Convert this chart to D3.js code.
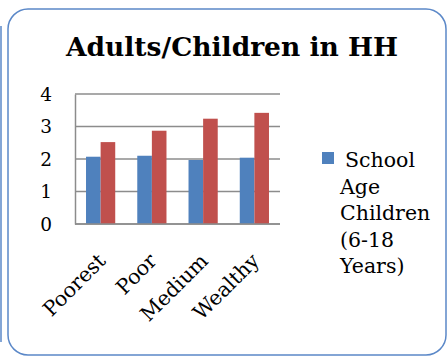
<!DOCTYPE html>
<html>
<head>
<meta charset="utf-8">
<script src="https://cdn.jsdelivr.net/npm/d3@7"></script>
<style>
  body { margin: 0; background: #fff; }
  svg { display: block; }
  text { font-family: "DejaVu Serif", "Liberation Serif", serif; fill: #000; }
</style>
</head>
<body>
<script>
var categories = ["Poorest", "Poor", "Medium", "Wealthy"];
var schoolAge = [2.07, 2.10, 1.97, 2.04];
var adults = [2.52, 2.87, 3.24, 3.42];
var yTicks = [0, 1, 2, 3, 4];
var legendLines = ["School", "Age", "Children", "(6-18", "Years)"];

var W = 448, H = 356;
var plot = {left: 75, right: 280, top: 94, bottom: 224};

var svg = d3.select("body").append("svg")
    .attr("width", W)
    .attr("height", H);

svg.append("rect")
    .attr("width", W).attr("height", H)
    .attr("fill", "#fff");

// neighbouring frame edge
svg.append("line")
    .attr("x1", 1).attr("x2", 1)
    .attr("y1", 26).attr("y2", 342)
    .attr("stroke", "#5b88c8").attr("stroke-width", 1.5);

// chart frame
svg.append("rect")
    .attr("x", 8).attr("y", 9)
    .attr("width", 438).attr("height", 346)
    .attr("rx", 20).attr("ry", 20)
    .attr("fill", "none")
    .attr("stroke", "#5b88c8")
    .attr("stroke-width", 1.5);

svg.append("text")
    .attr("x", 232).attr("y", 56)
    .attr("text-anchor", "middle")
    .style("font-size", "26.5px")
    .style("font-weight", "bold")
    .text("Adults/Children in HH");

var x = d3.scaleBand()
    .domain(categories)
    .range([plot.left, plot.right])
    .paddingInner(0.43)
    .paddingOuter(0.215);

var x1 = d3.scaleBand()
    .domain([0, 1])
    .range([0, x.bandwidth()]);

var y = d3.scaleLinear()
    .domain([0, 4])
    .range([plot.bottom, plot.top]);

// gridlines
svg.append("g")
    .selectAll("line")
    .data(yTicks)
    .enter().append("line")
    .attr("x1", plot.left).attr("x2", plot.right)
    .attr("y1", function(d) { return y(d); })
    .attr("y2", function(d) { return y(d); })
    .attr("stroke", "#8c8c8c")
    .attr("stroke-width", 1.5);

var yAxis = svg.append("g")
    .attr("transform", "translate(" + plot.left + ",0)")
    .call(d3.axisLeft(y).tickValues(yTicks).tickSize(0).tickPadding(23).tickFormat(d3.format("d")));
yAxis.select(".domain").attr("stroke", "#8c8c8c").attr("stroke-width", 1.5);
yAxis.selectAll("text")
    .style("font-size", "18.5px")
    .style("font-family", "\"DejaVu Serif\", serif")
    .attr("dy", "0.35em");

var series = [schoolAge, adults];
var colors = ["#4f81bd", "#c0504d"];

series.forEach(function(vals, s) {
  svg.append("g")
      .selectAll("rect")
      .data(vals)
      .enter().append("rect")
      .attr("x", function(d, i) { return x(categories[i]) + x1(s); })
      .attr("width", x1.bandwidth())
      .attr("y", function(d) { return y(d); })
      .attr("height", function(d) { return y(0) - y(d); })
      .attr("fill", colors[s]);
});

// bottom axis line
svg.append("line")
    .attr("x1", plot.left).attr("x2", plot.right)
    .attr("y1", plot.bottom).attr("y2", plot.bottom)
    .attr("stroke", "#8c8c8c").attr("stroke-width", 1.5);

// category labels, rotated
svg.append("g")
    .selectAll("text")
    .data(categories)
    .enter().append("text")
    .attr("transform", function(d) {
      return "translate(" + (x(d) + x.bandwidth() / 2 - 4) + "," + 252 + ") rotate(-45)";
    })
    .attr("text-anchor", "end")
    .attr("dy", "0.7em")
    .style("font-size", "20.5px")
    .text(function(d) { return d; });

// legend
svg.append("rect")
    .attr("x", 322).attr("y", 152)
    .attr("width", 12).attr("height", 12)
    .attr("fill", colors[0]);

svg.append("g")
    .selectAll("text")
    .data(legendLines)
    .enter().append("text")
    .attr("x", function(d, i) { return i === 0 ? 345 : 340; })
    .attr("y", function(d, i) { return 167 + i * 26.5; })
    .style("font-size", "20.5px")
    .text(function(d) { return d; });
</script>
</body>
</html>
